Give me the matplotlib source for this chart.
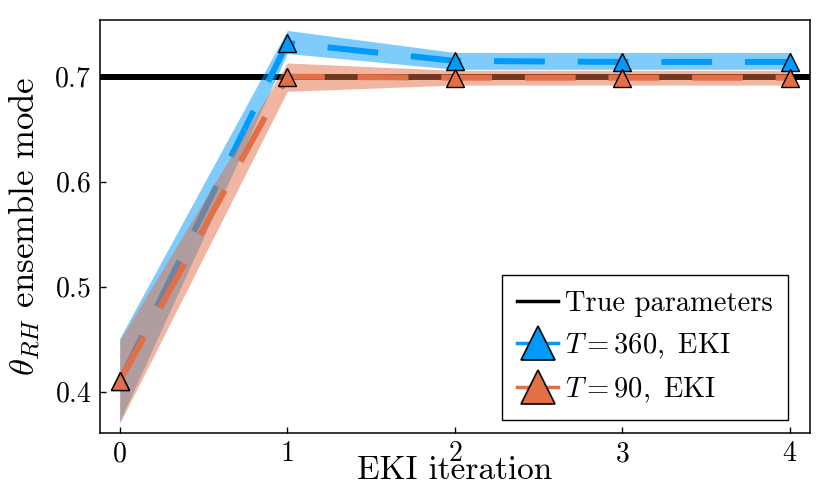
import numpy as np
import matplotlib
matplotlib.use("Agg")
import matplotlib.pyplot as plt
from matplotlib.lines import Line2D

plt.rcParams['font.family'] = 'serif'
plt.rcParams['font.serif'] = ['cmr10', 'DejaVu Serif']
plt.rcParams['mathtext.fontset'] = 'cm'
plt.rcParams['axes.formatter.use_mathtext'] = True

# data
iterations = [0, 1, 2, 3, 4]
true_value = 0.70

mode_360 = [0.410, 0.732, 0.715, 0.714, 0.714]
lo_360 = [0.372, 0.722, 0.707, 0.707, 0.707]
hi_360 = [0.451, 0.744, 0.723, 0.723, 0.723]

mode_90 = [0.410, 0.700, 0.699, 0.699, 0.699]
lo_90 = [0.370, 0.686, 0.692, 0.692, 0.692]
hi_90 = [0.449, 0.713, 0.706, 0.706, 0.706]

blue = '#009AFA'
orange = '#E26F46'

fig, ax = plt.subplots(figsize=(8.3, 4.98), dpi=100)
fig.subplots_adjust(left=0.12, right=0.976, top=0.96, bottom=0.131)

ax.axhline(true_value, color='black', lw=4.3, zorder=1)

ax.fill_between(iterations, lo_360, hi_360, color=blue, alpha=0.5, lw=0, zorder=2)
ax.plot(iterations, mode_360, color=blue, lw=4.3, dashes=(8.5, 5.5), zorder=3)
ax.plot(iterations, mode_360, ls='none', marker='^', ms=13, mfc=blue, mec='black', mew=1.0, zorder=6)

ax.fill_between(iterations, lo_90, hi_90, color=orange, alpha=0.5, lw=0, zorder=4)
ax.plot(iterations, mode_90, color=orange, lw=4.3, dashes=(8.5, 5.5), zorder=5)
ax.plot(iterations, mode_90, ls='none', marker='^', ms=13, mfc=orange, mec='black', mew=1.0, zorder=7)

ax.set_xlim(-0.12, 4.12)
ax.set_ylim(0.361, 0.754)
ax.set_xticks(iterations)
ax.set_yticks([0.4, 0.5, 0.6, 0.7])
ax.tick_params(direction='in', length=4, width=1, labelsize=20, pad=6, top=False, right=False)
for s in ax.spines.values():
    s.set_linewidth(1.1)

ax.set_xlabel('EKI iteration', fontsize=24)
ax.xaxis.set_label_coords(0.5, -0.057)
ax.set_ylabel(r'$\theta_{RH}$ ensemble mode', fontsize=25)
ax.yaxis.set_label_coords(-0.08, 0.5)

handles = [
    Line2D([], [], color='black', lw=2.5),
    Line2D([], [], color=blue, lw=2.5, marker='^', ms=24, mfc=blue, mec='black', mew=1.2),
    Line2D([], [], color=orange, lw=2.5, marker='^', ms=24, mfc=orange, mec='black', mew=1.2),
]
labels = ['True parameters', r'$T = 360,\ \mathrm{EKI}$', r'$T = 90,\ \mathrm{EKI}$']
leg = ax.legend(handles, labels, loc='lower right', fontsize=20.5, frameon=True, fancybox=False,
                edgecolor='black', framealpha=1, handlelength=1.45, handletextpad=0.25,
                labelspacing=0.52, borderpad=0.52, borderaxespad=0,
                bbox_to_anchor=(0.969, 0.031))
leg.get_frame().set_linewidth(1.0)

fig.savefig('out.png', dpi=100)
